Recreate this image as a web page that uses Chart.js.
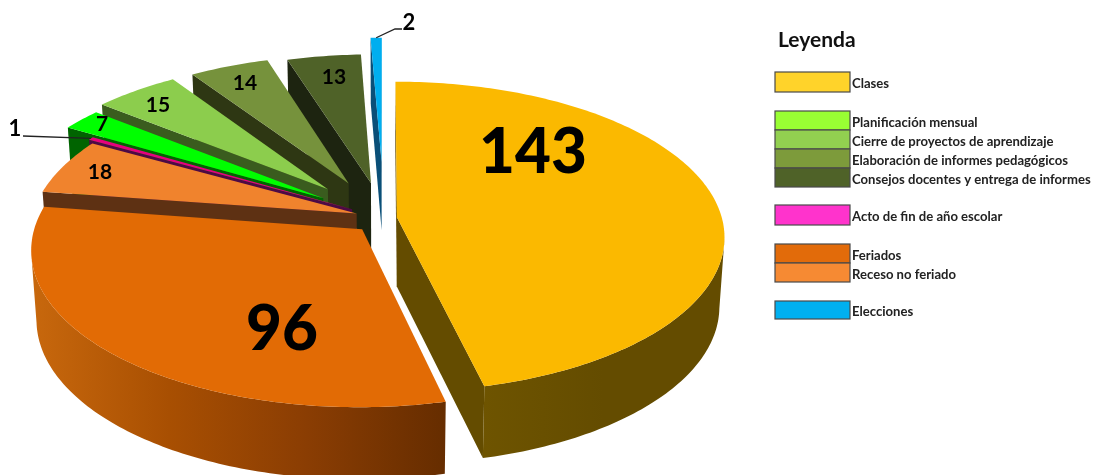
<!DOCTYPE html>
<html>
<head>
<meta charset="utf-8">
<style>
  html, body { margin: 0; padding: 0; background: #fff; overflow: hidden; }
  canvas { display: block; }
</style>
<script src="https://cdn.jsdelivr.net/npm/chart.js@4"></script>
</head>
<body>
<canvas id="calendarChart" width="1095" height="475"></canvas>
<script>
// Chart data, clockwise from the top of the pie
const sliceNames = ['Clases', 'Feriados', 'Receso no feriado', 'Acto de fin de año escolar',
  'Planificación mensual', 'Cierre de proyectos de aprendizaje',
  'Elaboración de informes pedagógicos', 'Consejos docentes y entrega de informes', 'Elecciones'];
const sliceDays = [143, 96, 18, 1, 7, 15, 14, 13, 2];

// Slice styles
const topColors = ['#fbb900', '#e26b05', '#f0832d', '#e6007e', '#00ff00', '#8ccd4d', '#76923c', '#4f6228', '#00aeef'];
const sideColors = ['#644c00', '#662d00', '#5e3113', '#4d0a45', '#006400', '#3a5c1e', '#2e3713', '#1d2410', '#0a4f78'];
const wallStops = [
  ['#6e5400', '#644c00', '#644c00'],
  ['#c8680d', '#a84f02', '#8a3d03', '#662d00'],
  ['#5e3113'], ['#4d0a45'], ['#006400'], ['#3a5c1e'], ['#2e3713'], ['#1d2410'], ['#0a4f78']
];
const sliceOffsets = [13, 32, 29, 37, 75, 85, 84, 78, 125];

// Legend rows, in the reference's order
const legendNames = ['Clases', 'Planificación mensual', 'Cierre de proyectos de aprendizaje',
  'Elaboración de informes pedagógicos', 'Consejos docentes y entrega de informes',
  'Acto de fin de año escolar', 'Feriados', 'Receso no feriado', 'Elecciones'];
const legendColors = ['#ffd32a', '#99ff33', '#92d050', '#7d9b3b', '#4f6228', '#ff33cc', '#e26b0a', '#f68a33', '#00b0f0'];
const legendTops = [72, 111, 130, 149, 168, 205, 244, 263, 301];
const legendBottoms = [92, 130, 149, 168, 187, 225, 263, 282, 319];

// Value label positions and sizes, one per slice
const labelX = [533, 282, 100, 15, 102, 158, 245, 334, 409];
const labelY = [153, 330, 172, 129, 124, 105, 83, 77, 23];
const labelSize = [62, 62, 21, 22, 21, 21, 21, 21, 22];
const labelWeight = [900, 900, 700, 700, 700, 700, 700, 700, 700];

// Fake 3D camera
const PIE_RADIUS = 325;
const SQUASH = 0.47;
const DEPTH = 8;
const WALL = 69;
const BOTTOM_SCALE = 0.985;
const FONT = 'Lato, sans-serif';

function project(arc, x, y, bottom) {
  const p = DEPTH / (DEPTH - y / PIE_RADIUS);
  return {
    x: arc.x + x * p * (bottom ? BOTTOM_SCALE : 1),
    y: arc.y + y * SQUASH * p + (bottom ? WALL * (1 + (p - 1) * 0.3) : 0)
  };
}

function fillPoly(ctx, points, fill) {
  ctx.beginPath();
  points.forEach((pt, i) => i ? ctx.lineTo(pt.x, pt.y) : ctx.moveTo(pt.x, pt.y));
  ctx.closePath();
  ctx.fillStyle = fill;
  ctx.fill();
}

// Apex and rim of a slice in flat pie coordinates
function sliceShape(arc) {
  const mid = (arc.startAngle + arc.endAngle) / 2;
  const ax = Math.cos(mid) * arc.options.offset;
  const ay = Math.sin(mid) * arc.options.offset;
  const rim = [];
  const steps = Math.max(4, Math.ceil((arc.endAngle - arc.startAngle) * 60));
  for (let i = 0; i <= steps; i++) {
    const a = arc.startAngle + (arc.endAngle - arc.startAngle) * i / steps;
    rim.push({ a, x: ax + Math.cos(a) * arc.outerRadius, y: ay + Math.sin(a) * arc.outerRadius });
  }
  return { ax, ay, rim };
}

function facesCamera(nx, ny, x, y) {
  return nx * (0 - x) + ny * (DEPTH * PIE_RADIUS - y) > 0;
}

function drawSide(ctx, arc, shape, edge, angle, color) {
  const { ax, ay } = shape;
  if (!facesCamera(Math.cos(angle), Math.sin(angle), ax, ay)) return;
  fillPoly(ctx, [
    project(arc, ax, ay), project(arc, edge.x, edge.y),
    project(arc, edge.x, edge.y, true), project(arc, ax, ay, true)
  ], color);
}

function drawRimWall(ctx, arc, shape, index) {
  const seen = shape.rim.filter(pt => facesCamera(Math.cos(pt.a), Math.sin(pt.a), pt.x, pt.y));
  if (seen.length < 2) return;
  const upper = seen.map(pt => project(arc, pt.x, pt.y));
  const lower = seen.map(pt => project(arc, pt.x, pt.y, true)).reverse();
  const xs = upper.map(pt => pt.x).concat(lower.map(pt => pt.x));
  const grad = ctx.createLinearGradient(Math.min(...xs), 0, Math.max(...xs), 0);
  const stops = wallStops[index];
  stops.forEach((c, i) => grad.addColorStop(stops.length > 1 ? i / (stops.length - 1) : 0, c));
  fillPoly(ctx, upper.concat(lower), grad);
}

const pie3d = {
  id: 'pie3d',
  beforeDatasetsDraw(chart) {
    const ctx = chart.ctx;
    const arcs = chart.getDatasetMeta(0).data;
    ctx.save();
    // back slices first
    for (let i = arcs.length - 1; i >= 0; i--) {
      const arc = arcs[i];
      const shape = sliceShape(arc);
      const first = shape.rim[0];
      const last = shape.rim[shape.rim.length - 1];
      drawSide(ctx, arc, shape, first, arc.startAngle - Math.PI / 2, sideColors[i]);
      drawSide(ctx, arc, shape, last, arc.endAngle + Math.PI / 2, sideColors[i]);
      drawRimWall(ctx, arc, shape, i);
      const top = [project(arc, shape.ax, shape.ay)].concat(shape.rim.map(pt => project(arc, pt.x, pt.y)));
      fillPoly(ctx, top, arc.options.backgroundColor);
    }
    ctx.restore();
    return false; // the flat arcs are replaced by the 3D ones
  },
  afterDraw(chart) {
    const ctx = chart.ctx;
    const arcs = chart.getDatasetMeta(0).data;
    ctx.save();

    // leader lines for the two thinnest slices
    ctx.strokeStyle = '#222';
    ctx.lineWidth = 1.3;
    const rimMid = arc => {
      const shape = sliceShape(arc);
      const pt = shape.rim[Math.floor(shape.rim.length / 2)];
      return project(arc, pt.x, pt.y);
    };
    const acto = rimMid(arcs[3]);
    ctx.beginPath();
    ctx.moveTo(23, 136);
    ctx.lineTo(acto.x, acto.y);
    ctx.stroke();
    const elec = rimMid(arcs[8]);
    ctx.beginPath();
    ctx.moveTo(elec.x, elec.y);
    ctx.lineTo(395, 29);
    ctx.lineTo(402, 29);
    ctx.stroke();

    // value labels
    ctx.fillStyle = '#000';
    ctx.textAlign = 'center';
    ctx.textBaseline = 'middle';
    sliceDays.forEach((v, i) => {
      ctx.font = `${labelWeight[i]} ${labelSize[i]}px ${FONT}`;
      ctx.fillText(String(v), labelX[i], labelY[i]);
    });

    // legend
    ctx.textAlign = 'left';
    ctx.font = `bold 21px ${FONT}`;
    ctx.fillStyle = '#111';
    ctx.fillText('Leyenda', 778, 40);
    legendNames.forEach((name, i) => {
      const h = legendBottoms[i] - legendTops[i];
      ctx.fillStyle = legendColors[i];
      ctx.fillRect(775, legendTops[i], 75, h);
      ctx.strokeStyle = '#4a4a4a';
      ctx.lineWidth = 1.2;
      ctx.strokeRect(775, legendTops[i], 75, h);
      ctx.fillStyle = '#222';
      ctx.font = `bold 13.1px ${FONT}`;
      ctx.fillText(name, 852, (legendTops[i] + legendBottoms[i]) / 2 + 2);
    });
    ctx.restore();
  }
};

new Chart(document.getElementById('calendarChart').getContext('2d'), {
  type: 'pie',
  data: {
    labels: sliceNames,
    datasets: [{
      data: sliceDays,
      backgroundColor: topColors,
      offset: sliceOffsets,
      radius: PIE_RADIUS,
      borderWidth: 0
    }]
  },
  options: {
    responsive: false,
    animation: false,
    events: [],
    layout: { padding: { right: 327, bottom: 39 } },
    plugins: { legend: { display: false }, tooltip: { enabled: false } }
  },
  plugins: [pie3d]
});
</script>
</body>
</html>
